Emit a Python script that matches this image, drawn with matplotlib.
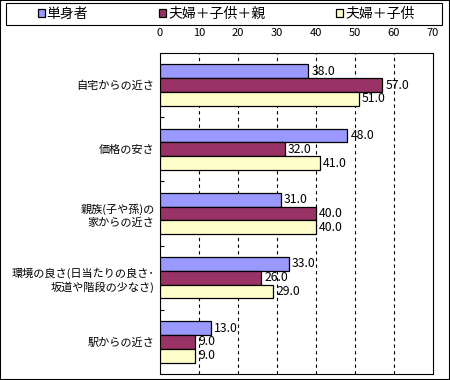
import numpy as np
import matplotlib.pyplot as plt
from matplotlib.patches import Rectangle

plt.rcParams['font.family'] = ['Noto Sans CJK JP', 'DejaVu Sans']

categories = ['自宅からの近さ', '価格の安さ', '親族(子や孫)の\n家からの近さ',
              '環境の良さ(日当たりの良さ･\n坂道や階段の少なさ)', '駅からの近さ']
series_names = ['単身者', '夫婦＋子供＋親', '夫婦＋子供']
single = [38.0, 48.0, 31.0, 33.0, 13.0]
couple_child_parent = [57.0, 32.0, 40.0, 26.0, 9.0]
couple_child = [51.0, 41.0, 40.0, 29.0, 9.0]
colors = ['#9999FF', '#993366', '#FFFFCC']

fig = plt.figure(figsize=(4.5, 3.8), dpi=100)
ax = fig.add_axes([160 / 450, 1 - 374 / 380, 273 / 450, 321 / 380])

y = np.arange(len(categories))
h = 0.215
for k, (vals, name, c) in enumerate(zip([single, couple_child_parent, couple_child], series_names, colors)):
    pos = y + (k - 1) * h
    ax.barh(pos, vals, height=h, color=c, edgecolor='black', linewidth=0.9, label=name, zorder=3)
    for p, v in zip(pos, vals):
        ax.text(v + 0.8, p, f'{v:.1f}', va='center', ha='left', fontsize=8.8, zorder=4)

ax.set_xlim(0, 70)
ax.set_ylim(len(categories) - 0.5, -0.5)
ax.set_xticks(range(0, 71, 10))
ax.xaxis.tick_top()
ax.tick_params(axis='x', length=0, pad=11, labelsize=8)
for xv in range(10, 70, 10):
    ax.axvline(xv, color='black', linestyle=(0, (3, 3)), linewidth=0.8, zorder=1)

ax.set_yticks(y)
ax.set_yticklabels(categories, fontsize=8, ha='right', linespacing=1.3)
ax.set_yticks(np.arange(0.5, len(categories) - 0.5, 1), minor=True)
ax.tick_params(axis='y', which='major', length=0, pad=4)
ax.tick_params(axis='y', which='minor', length=3, direction='in', width=0.8)
for s in ax.spines.values():
    s.set_linewidth(0.8)

# legend box
fig.patches.append(Rectangle((6 / 450, 1 - 25 / 380), 436 / 450, 22 / 380, transform=fig.transFigure,
                             fill=False, edgecolor='black', linewidth=0.8))
fig.legend(loc='center', bbox_to_anchor=(226 / 450, 1 - 14 / 380), ncol=3, frameon=False,
           fontsize=10, handlelength=0.5, handleheight=0.5, handletextpad=0.15,
           columnspacing=5.1, borderpad=0, borderaxespad=0)

fig.patches.append(Rectangle((0, 0), 1, 1, transform=fig.transFigure, fill=False,
                             edgecolor='black', linewidth=1.5))

fig.savefig('out.png', dpi=100)
